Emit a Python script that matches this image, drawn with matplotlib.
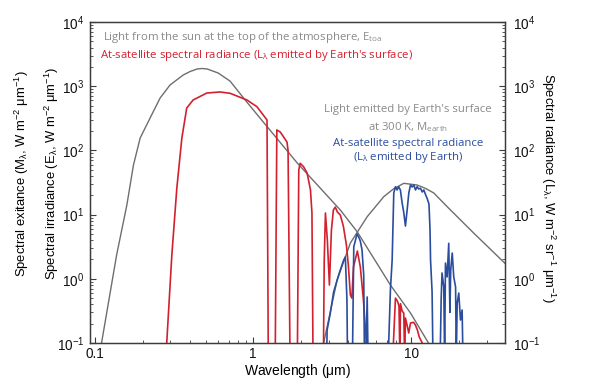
import matplotlib
matplotlib.use("Agg")
import matplotlib.pyplot as plt
from matplotlib.ticker import FixedLocator, FixedFormatter, LogLocator, NullFormatter

plt.rcParams['font.family'] = ['Liberation Sans', 'DejaVu Sans']

# ---- data ----
# Solar irradiance at top of atmosphere (grey)
wl_sun = [0.110, 0.137, 0.159, 0.175, 0.193, 0.223, 0.258, 0.298, 0.361, 0.399,
          0.442, 0.475, 0.512, 0.600, 0.714, 0.889, 1.157, 1.897, 2.578, 3.55,
          4.55, 7.36, 9.86, 12.6, 13.5]
e_sun = [0.10, 2.35, 14.1, 59, 156, 320, 655, 1044, 1494, 1694,
         1853, 1887, 1853, 1606, 1200, 610, 277, 63.7, 27.9, 11.8,
         5.36, 0.80, 0.293, 0.107, 0.08]

# Earth surface emission at 300 K (grey)
wl_earth = [2.70, 2.786, 3.39, 4.11, 5.25, 6.68, 7.69, 8.94, 10.86, 12.3,
            13.84, 16.8, 24.7, 39.4]
m_earth = [0.07, 0.10, 0.957, 3.61, 9.27, 19.0, 25.1, 30.7, 28.9, 25.5,
           21.7, 13.3, 5.17, 1.70]

# At-satellite radiance, reflected sunlight (red)
wl_red = [0.27, 0.284, 0.306, 0.329, 0.354, 0.380, 0.417, 0.509, 0.618, 0.714,
          0.912, 1.055, 1.222, 1.25,
          1.37, 1.41, 1.48, 1.556, 1.634, 1.66, 1.72,
          1.89, 1.94, 1.98, 2.08, 2.19, 2.30, 2.35, 2.40,
          2.76, 2.81, 2.86, 2.94, 3.03, 3.12, 3.21, 3.30, 3.40, 3.55,
          3.71, 3.88, 3.99, 4.11, 4.20, 4.30, 4.55, 4.75, 4.97, 5.19, 5.30,
          7.60, 7.69, 7.92, 8.15, 8.34, 8.45, 8.52, 8.73, 8.94, 9.05,
          9.16, 9.44, 9.61, 9.86, 10.3, 10.6, 10.9, 11.2, 11.7, 11.9]
l_red = [0.01, 0.10, 2.35, 25.9, 156, 457, 610, 783, 813, 775,
         610, 480, 298, 0.01,
         0.01, 208, 194, 162, 135, 100, 0.01,
         0.01, 49.5, 63, 55.7, 44.5, 24.2, 10.6, 0.01,
         0.01, 1.96, 10.6, 4.0, 0.80, 5.75, 11.8, 13.1, 11.0, 9.86,
         6.64, 3.36, 1.64, 0.56, 0.50, 1.53, 2.71, 1.53, 0.468, 0.10, 0.01,
         0.01, 0.10, 0.50, 0.45, 0.377, 0.06, 0.41, 0.315, 0.293, 0.06,
         0.245, 0.177, 0.143, 0.205, 0.21, 0.19, 0.159, 0.124, 0.10, 0.01]

# At-satellite radiance, Earth emission (blue)
wl_blue = [2.88, 2.93, 3.07, 3.22, 3.39, 3.55, 3.73, 3.82, 3.91, 3.97,
           4.20, 4.32, 4.43, 4.53, 4.64, 4.75, 4.87, 4.99, 5.08, 5.25, 5.37,
           7.10, 7.18, 7.36, 7.55, 7.73, 7.92, 8.11, 8.30, 8.51, 8.73,
           8.93, 9.16, 9.39, 9.62, 9.86, 10.1, 10.35, 10.6, 10.86, 11.1,
           11.4, 11.7, 11.97, 12.3, 12.6, 12.9, 13.1, 13.2, 13.5, 13.8,
           15.0, 15.4, 15.6, 16.0, 16.2, 16.4, 16.8, 17.2, 17.5, 17.7,
           18.1, 18.5, 19.0, 19.2, 19.45, 19.9, 20.4, 20.9, 21.4]
l_blue = [0.01, 0.159, 0.293, 0.62, 0.957, 1.37, 1.96, 2.19, 0.47, 0.01,
          0.01, 3.16, 4.02, 4.99, 4.48, 3.88, 2.81, 1.15, 0.01, 0.52, 0.01,
          0.01, 0.10, 0.67, 1.96, 21.7, 27.2, 24.2, 27.2, 24.2, 15.2,
          11.0, 6.64, 11.8, 21.7, 28.9, 26.9, 28.9, 24.2, 27.2, 25.1,
          25.7, 22.5, 24.2, 20.2, 17.5, 14.6, 5.75, 1.96, 0.62, 0.01,
          0.01, 0.468, 1.23, 0.745, 0.06, 1.76, 1.07, 3.57, 0.30, 1.37,
          2.52, 1.07, 0.745, 0.06, 0.42, 0.60, 0.228, 0.327, 0.01]

y_ticks = [0.1, 1, 10, 100, 1000, 10000]
y_tick_labels = [r'$\mathregular{10^{-1}}$', r'$\mathregular{10^{0}}$', r'$\mathregular{10^{1}}$',
                 r'$\mathregular{10^{2}}$', r'$\mathregular{10^{3}}$', r'$\mathregular{10^{4}}$']
x_ticks = [0.1, 1, 10]
x_tick_labels = ['0.1', '1', '10']

GREY = '#6e6e6e'
GREY_TXT = '#8a8a8a'
RED = '#d3202e'
BLUE = '#2a4d9e'
SPINE = '#3c3c3c'

fig = plt.figure(figsize=(5.9, 3.8), dpi=100)
ax = fig.add_axes([90/590, 1-343/380, 415/590, 321/380])

ax.plot(wl_sun, e_sun, color=GREY, lw=1.0)
ax.plot(wl_earth, m_earth, color=GREY, lw=1.0)
ax.plot(wl_red, l_red, color=RED, lw=1.2)
ax.plot(wl_blue, l_blue, color=BLUE, lw=1.2)

ax.set_xscale('log')
ax.set_yscale('log')
ax.set_xlim(0.093, 39)
ax.set_ylim(0.1, 10000)

ax.xaxis.set_major_locator(FixedLocator(x_ticks))
ax.xaxis.set_major_formatter(FixedFormatter(x_tick_labels))
ax.xaxis.set_minor_locator(LogLocator(base=10, subs=range(2, 10)))
ax.xaxis.set_minor_formatter(NullFormatter())
ax.yaxis.set_major_locator(FixedLocator(y_ticks))
ax.yaxis.set_major_formatter(FixedFormatter(y_tick_labels))
ax.yaxis.set_minor_locator(LogLocator(base=10, subs=range(2, 10)))
ax.yaxis.set_minor_formatter(NullFormatter())

for sp in ax.spines.values():
    sp.set_color(SPINE)
    sp.set_linewidth(1.0)

ax.tick_params(axis='both', which='both', direction='in', colors=SPINE,
               labelcolor='#111111', labelsize=9.8, top=False, right=False)
ax.tick_params(axis='both', which='major', length=4)
ax.tick_params(axis='both', which='minor', length=2)
ax.tick_params(axis='y', pad=4)
ax.tick_params(axis='x', pad=3)

ax2 = ax.twinx()
ax2.set_yscale('log')
ax2.set_ylim(0.1, 10000)
ax2.yaxis.set_major_locator(FixedLocator(y_ticks))
ax2.yaxis.set_major_formatter(FixedFormatter(y_tick_labels))
ax2.yaxis.set_minor_locator(LogLocator(base=10, subs=range(2, 10)))
ax2.yaxis.set_minor_formatter(NullFormatter())
ax2.tick_params(axis='y', which='both', direction='in', colors=SPINE,
                labelcolor='#111111', labelsize=9.8, pad=6)
ax2.tick_params(axis='y', which='major', length=4)
ax2.tick_params(axis='y', which='minor', length=2)
for sp in ax2.spines.values():
    sp.set_color(SPINE)

ax.set_xlabel(r'Wavelength ($\mathregular{\mu}$m)', fontsize=10, labelpad=0.5)

fig.text(22/590, 1-174/380,
         r'Spectral exitance (M$_\mathregular{\lambda}$, W m$\mathregular{^{-2}}$ $\mathregular{\mu}$m$\mathregular{^{-1}}$)',
         rotation=90, ha='center', va='center', fontsize=9.4)
fig.text(52/590, 1-173/380,
         r'Spectral irradiance (E$_\mathregular{\lambda}$, W m$\mathregular{^{-2}}$ $\mathregular{\mu}$m$\mathregular{^{-1}}$)',
         rotation=90, ha='center', va='center', fontsize=9.4)
fig.text(548/590, 1-188/380,
         r'Spectral radiance (L$_\mathregular{\lambda}$, W m$\mathregular{^{-2}}$ sr$\mathregular{^{-1}}$ $\mathregular{\mu}$m$\mathregular{^{-1}}$)',
         rotation=-90, ha='center', va='center', fontsize=9.4)

TF = ['Open Sans', 'DejaVu Sans']
ax.text(0.031, 0.953, r'Light from the sun at the top of the atmosphere, E$_\mathregular{toa}$',
        transform=ax.transAxes, color=GREY_TXT, fontsize=8.2, family=TF, ha='left', va='center')
ax.text(0.024, 0.897, r"At-satellite spectral radiance (L$_\mathregular{\lambda}$ emitted by Earth's surface)",
        transform=ax.transAxes, color=RED, fontsize=8.2, family=TF, ha='left', va='center')
ax.text(0.766, 0.726, "Light emitted by Earth's surface",
        transform=ax.transAxes, color=GREY_TXT, fontsize=8.2, family=TF, ha='center', va='center')
ax.text(0.766, 0.673, r'at 300 K, M$_\mathregular{earth}$',
        transform=ax.transAxes, color=GREY_TXT, fontsize=8.2, family=TF, ha='center', va='center')
ax.text(0.766, 0.623, 'At-satellite spectral radiance',
        transform=ax.transAxes, color=BLUE, fontsize=8.2, family=TF, ha='center', va='center')
ax.text(0.766, 0.579, r'(L$_\mathregular{\lambda}$ emitted by Earth)',
        transform=ax.transAxes, color=BLUE, fontsize=8.2, family=TF, ha='center', va='center')

fig.savefig('out.png', dpi=100)
